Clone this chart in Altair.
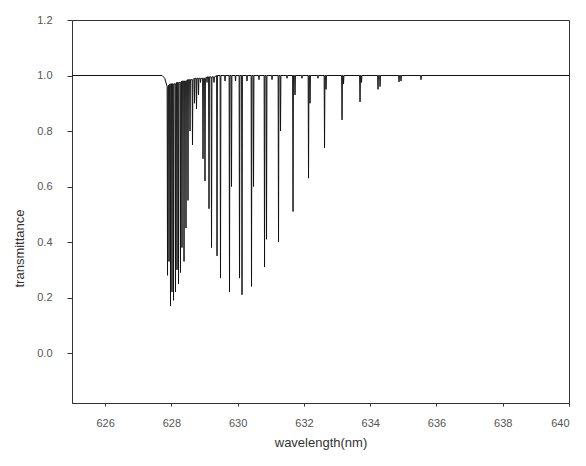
import altair as alt
import pandas as pd

# absorption line centres (nm), their minimum transmittance and local continuum level
line_nm = [627.883, 627.928, 627.973, 628.018, 628.064, 628.124, 628.169, 628.215,
           628.275, 628.320, 628.381, 628.441, 628.501, 628.562, 628.637, 628.698,
           628.758, 628.818, 628.879, 628.954, 629.014, 629.075, 629.135, 629.211,
           629.286, 629.377, 629.482, 629.618, 629.754, 629.814, 629.935, 630.056,
           630.131, 630.282, 630.418, 630.479, 630.644, 630.811, 630.871, 631.037,
           631.233, 631.293, 631.490, 631.671, 631.731, 631.942, 632.139, 632.184,
           632.425, 632.622, 632.667, 633.150, 633.195, 633.693, 633.738, 634.236,
           634.297, 634.870, 634.930, 635.534]
line_min = [0.28, 0.33, 0.17, 0.22, 0.19, 0.22, 0.30, 0.25,
            0.29, 0.38, 0.33, 0.45, 0.55, 0.80, 0.75, 0.90,
            0.88, 0.93, 0.975, 0.70, 0.62, 0.975, 0.52, 0.38,
            0.975, 0.35, 0.27, 0.98, 0.22, 0.60, 0.98, 0.27,
            0.21, 0.98, 0.24, 0.60, 0.985, 0.31, 0.41, 0.985,
            0.40, 0.80, 0.99, 0.51, 0.93, 0.99, 0.63, 0.90,
            0.99, 0.74, 0.95, 0.84, 0.97, 0.905, 0.975, 0.95,
            0.96, 0.977, 0.98, 0.985]
line_top = [0.96, 0.965, 0.97, 0.97, 0.97, 0.97, 0.975, 0.975,
            0.975, 0.98, 0.98, 0.98, 0.985, 0.985, 0.985, 0.99,
            0.99, 0.99, 0.99, 0.99, 0.99, 0.995, 0.995, 0.995,
            0.995] + [1.0] * 35
half_width = 0.012

# continuum points outside the lines
cont_nm = [625.0, 627.72, 627.80, 640.0]
cont_val = [1.0, 1.0, 0.99, 1.0]

xs, ys = list(cont_nm), list(cont_val)
for c, m, t in zip(line_nm, line_min, line_top):
    xs += [c - half_width, c, c + half_width]
    ys += [t, m, t]
df = pd.DataFrame({"wl": xs, "T": ys}).sort_values("wl").reset_index(drop=True)
df["o"] = range(len(df))

x_ticks = [626, 628, 630, 632, 634, 636, 638, 640]
y_ticks = [0.0, 0.2, 0.4, 0.6, 0.8, 1.0, 1.2]

chart = alt.Chart(df).mark_line(color="#111", strokeWidth=1, clip=True).encode(
    x=alt.X("wl:Q", scale=alt.Scale(domain=[625, 640], nice=False, zero=False),
            axis=alt.Axis(title="wavelength(nm)", values=x_ticks, format="d",
                          tickSize=3, labelPadding=11, titlePadding=8, grid=False)),
    y=alt.Y("T:Q", scale=alt.Scale(domain=[-0.18, 1.2], nice=False, zero=False),
            axis=alt.Axis(title="transmittance", values=y_ticks, format=".1f",
                          tickSize=5, labelPadding=15, grid=False,
                          titleX=-53, titleY=228, titleAngle=270,
                          titleAlign="center", titleBaseline="middle")),
    order="o:Q",
).properties(
    width=497, height=383,
    autosize=alt.AutoSizeParams(type="none"),
    padding={"left": 64, "top": 12, "right": 9, "bottom": 55},
).configure_view(stroke="#333", strokeWidth=1).configure_axis(
    labelFont="Liberation Sans", titleFont="Liberation Sans",
    labelFontSize=11, titleFontSize=13, labelColor="#555", titleColor="#333",
    titleFontWeight="normal", domainColor="#333", tickColor="#333",
)

chart.save("out.html", embed_options={"renderer": "svg", "actions": False})
